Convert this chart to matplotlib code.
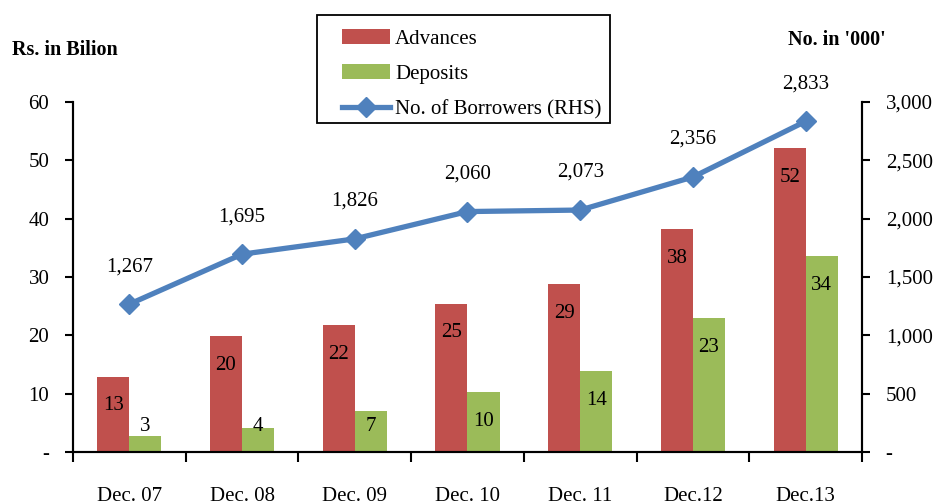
import matplotlib.pyplot as plt
from matplotlib.patches import Rectangle
import numpy as np

plt.rcParams['font.family'] = ['Liberation Serif', 'DejaVu Serif']

# data
periods = ['Dec. 07', 'Dec. 08', 'Dec. 09', 'Dec. 10', 'Dec. 11', 'Dec.12', 'Dec.13']
advances = [12.9, 19.9, 21.8, 25.4, 28.8, 38.2, 52.1]
deposits = [2.8, 4.1, 7.0, 10.3, 13.9, 23.0, 33.6]
borrowers = [1267, 1695, 1826, 2060, 2073, 2356, 2833]

red = '#C0504D'
green = '#9BBB59'
blue = '#4F81BD'
fs = 15

fig = plt.figure(figsize=(9.35, 5.04), dpi=100)
ax = fig.add_axes([0.078, 0.103, 0.844, 0.695])
ax2 = ax.twinx()

x = np.arange(len(periods))
w = 0.285
b1 = ax.bar(x - w / 2, advances, w, color=red, label='Advances', zorder=2)
b2 = ax.bar(x + w / 2, deposits, w, color=green, label='Deposits', zorder=2)

# bar labels: inside near the top, but not lower than a floor
for xs, vals in ((x - w / 2, advances), (x + w / 2, deposits)):
    for xi, v in zip(xs, vals):
        ax.text(xi, max(v - 5.0, 4.3), f'{v:.0f}', ha='center', va='center',
                fontsize=fs, zorder=3)

ln, = ax2.plot(x, borrowers, color=blue, lw=3.8, marker='D', ms=10,
               label='No. of Borrowers (RHS)', zorder=4)
for xi, v in zip(x, borrowers):
    ax2.annotate(f'{v:,}', (xi, v), xytext=(0, 27), textcoords='offset points',
                 ha='center', va='center', fontsize=fs)

ax.set_xlim(-0.5, len(periods) - 0.5)
ax.set_ylim(0, 60)
ax2.set_ylim(0, 3000)

ax.set_yticks(range(0, 61, 10))
ax.set_yticklabels(['-'] + [str(v) for v in range(10, 61, 10)])
ax2.set_yticks(range(0, 3001, 500))
ax2.set_yticklabels(['-'] + [f'{v:,}' for v in range(500, 3001, 500)])

ax.set_xticks(np.arange(-0.5, len(periods)), [''] * (len(periods) + 1))
ax.set_xticks(x, periods, minor=True)
ax.tick_params(axis='x', which='major', length=7, width=1.5, direction='out')
ax.tick_params(axis='x', which='minor', length=0, pad=25, labelsize=fs)
ax.tick_params(axis='y', length=6, width=1.5, labelsize=fs, pad=11)
ax2.tick_params(axis='y', length=6, width=1.5, labelsize=fs, pad=11)

for a in (ax, ax2):
    a.spines['top'].set_visible(False)
    for s in ('left', 'right', 'bottom'):
        a.spines[s].set_linewidth(1.5)

fig.text(0.013, 0.9, 'Rs. in Bilion', fontsize=14.5, fontweight='bold', va='center')
fig.text(0.843, 0.92, "No. in '000'", fontsize=14.5, fontweight='bold', va='center')

# legend box drawn separately so the padding matches
fig.patches.append(Rectangle((0.339, 0.756), 0.3134, 0.2143, transform=fig.transFigure,
                             fill=False, edgecolor='black', lw=1.3))
fig.legend(handles=[b1, b2, ln], loc='upper left',
           bbox_to_anchor=(0.3658, 0.942), fontsize=fs, frameon=False,
           handlelength=2.3, labelspacing=0.75, borderpad=0,
           handletextpad=0.25, borderaxespad=0)

fig.savefig('out.png', dpi=100)
